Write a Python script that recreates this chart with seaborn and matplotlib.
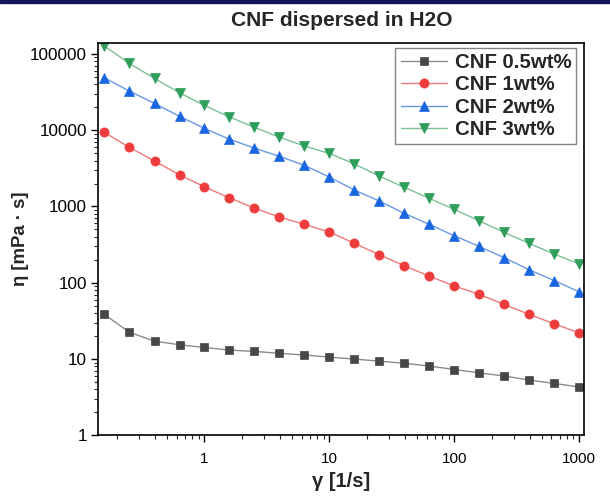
import matplotlib
matplotlib.use("Agg")
import matplotlib.pyplot as plt
import matplotlib.ticker as mticker
from matplotlib.patches import Rectangle
import seaborn as sns
import pandas as pd

shear_rate = [0.158, 0.251, 0.398, 0.631, 1.0, 1.58, 2.51, 3.98, 6.31, 10.0,
              15.8, 25.1, 39.8, 63.1, 100.0, 158.0, 251.0, 398.0, 631.0, 1000.0]
cnf_05 = [38.5, 22.4, 17.2, 15.4, 14.2, 13.1, 12.6, 11.9, 11.3, 10.6,
          10.0, 9.4, 8.8, 8.1, 7.3, 6.6, 6.0, 5.3, 4.8, 4.3]
cnf_1 = [9350, 5950, 3940, 2600, 1810, 1300, 953, 726, 583, 462,
         330, 233, 167, 122, 91, 70.5, 52, 38.5, 29, 22]
cnf_2 = [48600, 32500, 22400, 15200, 10560, 7640, 5820, 4540, 3460, 2430,
         1650, 1178, 812, 583, 413, 300, 213, 148, 107, 76]
cnf_3 = [126500, 75000, 47700, 30900, 21100, 14900, 10900, 8120, 6190, 4960,
         3620, 2500, 1780, 1277, 916, 650, 457, 328, 238, 176]
labels = ["CNF 0.5wt%", "CNF 1wt%", "CNF 2wt%", "CNF 3wt%"]
title = "CNF dispersed in H2O"
y_ticks = [1, 10, 100, 1000, 10000, 100000]
x_ticks = [1, 10, 100, 1000]

series = [cnf_05, cnf_1, cnf_2, cnf_3]
rows = []
for lab, vals in zip(labels, series):
    for x, y in zip(shear_rate, vals):
        rows.append({"rate": x, "eta": y, "sample": lab})
df = pd.DataFrame(rows)

sns.set_theme(style="ticks")
plt.rcParams["font.family"] = ["Liberation Sans", "DejaVu Sans"]

marker_colors = ["#474747", "#ee3b3b", "#1a66e0", "#2e9e5a"]
line_colors = ["#8a8a8a", "#f07878", "#6a98e8", "#7cc096"]
markers = ["s", "o", "^", "v"]
msizes = [6.0, 6.6, 7.3, 7.3]

fig = plt.figure(figsize=(6.10, 4.97), dpi=100)
ax = fig.add_axes([0.161, 0.124, 0.797, 0.790])

for lab, mc, lc, mk, ms in zip(labels, marker_colors, line_colors, markers, msizes):
    sub = df[df["sample"] == lab]
    sns.lineplot(data=sub, x="rate", y="eta", ax=ax, color=lc, linewidth=1.0,
                 marker=mk, markersize=ms, markerfacecolor=mc,
                 markeredgecolor=mc, markeredgewidth=0.5, label=lab,
                 estimator=None, sort=False)

ax.set_xscale("log")
ax.set_yscale("log")
ax.set_xlim(0.141, 1100)
ax.set_ylim(1, 140000)
ax.set_xticks(x_ticks)
ax.set_yticks(y_ticks)
ax.xaxis.set_major_formatter(mticker.FuncFormatter(lambda v, p: f"{v:g}" if v >= 1 else ""))
ax.yaxis.set_major_formatter(mticker.FuncFormatter(lambda v, p: f"{int(round(v))}"))
ax.xaxis.set_minor_locator(mticker.LogLocator(base=10, subs=range(2, 10), numticks=20))
ax.yaxis.set_minor_locator(mticker.LogLocator(base=10, subs=range(2, 10), numticks=20))
ax.xaxis.set_minor_formatter(mticker.NullFormatter())
ax.yaxis.set_minor_formatter(mticker.NullFormatter())

ax.tick_params(axis="both", which="major", direction="out", length=5, width=1.0,
               colors="black", pad=3)
ax.tick_params(axis="x", which="major", labelsize=11, pad=7)
ax.tick_params(axis="y", which="major", labelsize=12.3)
ax.tick_params(axis="both", which="minor", direction="out", length=3, width=0.8)
for s in ax.spines.values():
    s.set_visible(True)
    s.set_linewidth(1.2)
    s.set_color("black")

ax.set_xlabel("γ [1/s]", fontsize=14.5, fontweight="bold", labelpad=4)
ax.set_ylabel("η [mPa · s]", fontsize=13.4, fontweight="bold", labelpad=1)
ax.set_title(title, fontsize=15.1, fontweight="bold", pad=12)

leg = ax.legend(loc="upper right", bbox_to_anchor=(0.9835, 0.9865), fontsize=14.7,
                frameon=True, fancybox=False, edgecolor="#666666",
                handlelength=2.3, handletextpad=0.35, labelspacing=0.16,
                borderpad=0.25, borderaxespad=0.0)
leg.get_frame().set_linewidth(1.0)
for t in leg.get_texts():
    t.set_fontweight("bold")

fig.patches.append(Rectangle((0, 0.993), 1, 0.007, transform=fig.transFigure,
                             color="#15155a", zorder=10))

fig.savefig("out.png", dpi=100)
